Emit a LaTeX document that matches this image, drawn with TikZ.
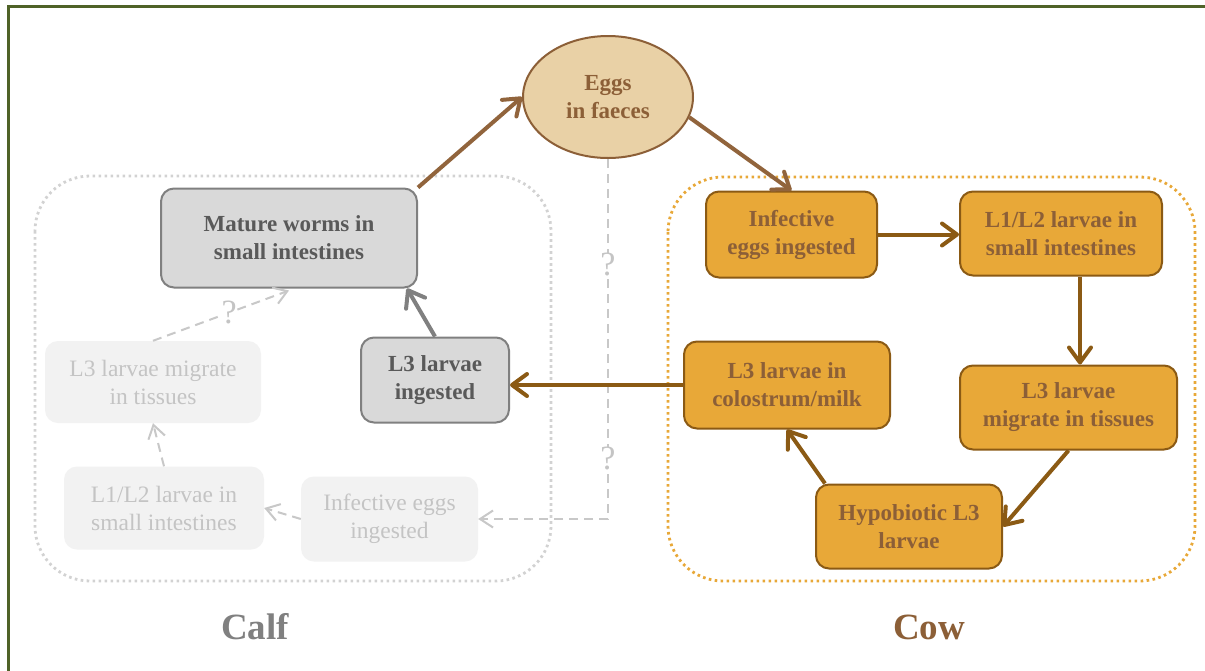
\documentclass[tikz,border=0pt]{standalone}
\usepackage{fontspec}
\setmainfont{Liberation Serif}
\usetikzlibrary{arrows.meta,shapes.geometric,calc}
\definecolor{frameG}{HTML}{4F6228}
\definecolor{eggFill}{HTML}{E9D1A6}
\definecolor{brownT}{HTML}{8C5F37}
\definecolor{eggArr}{HTML}{91643C}
\definecolor{orFill}{HTML}{E8A838}
\definecolor{orLine}{HTML}{8B5A14}
\definecolor{grFill}{HTML}{D9D9D9}
\definecolor{grLine}{HTML}{808080}
\definecolor{grText}{HTML}{595959}
\definecolor{fdFill}{HTML}{F2F2F2}
\definecolor{fdText}{HTML}{C4C4C4}
\definecolor{fdLine}{HTML}{C8C8C8}
\definecolor{calfBox}{HTML}{D2D2D2}
\tikzset{
  txt/.style={font=\fontsize{23}{28}\selectfont\bfseries, align=center},
  orbox/.style={txt, draw=orLine, fill=orFill, text=brownT, line width=2pt, rounded corners=13pt, inner sep=0pt},
  grbox/.style={txt, draw=grLine, fill=grFill, text=grText, line width=2pt, rounded corners=13pt, inner sep=0pt},
  fdbox/.style={font=\fontsize{23.5}{28}\selectfont, align=center, fill=fdFill, text=fdText, rounded corners=13pt, inner sep=0pt},
  arr/.style={line width=4pt, -{Straight Barb[length=15pt,width=22pt,round]}},
  fdarr/.style={draw=fdLine, line width=2pt, dash pattern=on 9pt off 6pt, -{Straight Barb[length=13pt,width=17pt,line width=2pt]}},
  qmark/.style={font=\fontsize{34}{36}\selectfont, text=fdText, fill=white, inner sep=0pt},
  container/.style={line width=2.8pt, dash pattern=on 2.6pt off 3.4pt, rounded corners=55pt},
}
\begin{document}
\begin{tikzpicture}[x=1pt,y=-1pt]
\useasboundingbox (0,0) rectangle (1205,670);
\fill[white] (0,0) rectangle (1205,670);
% frame
\draw[frameG, line width=2.2pt] (8.5,680) -- (8.5,6.5) -- (1215,6.5);
% containers
\draw[container, draw=calfBox] (35,176) rectangle (551,581);
\draw[container, draw=orFill] (668,177) rectangle (1195,581);
% nodes
\node[ellipse, draw=brownT, fill=eggFill, line width=2pt, minimum width=170pt, minimum height=122pt, inner sep=0pt, txt, text=brownT] (eggs) at (608,97) {Eggs\\in faeces};
\node[grbox, minimum width=256pt, minimum height=99pt] (mature) at (289,238) {Mature worms in\\small intestines};
\node[grbox, minimum width=148pt, minimum height=85pt] (l3ing) at (435,380) {L3 larvae\\ingested};
\node[fdbox, minimum width=216pt, minimum height=82pt] (fmig) at (153,382) {L3 larvae migrate\\in tissues};
\node[fdbox, minimum width=200pt, minimum height=83pt] (fl12) at (164,508) {L1/L2 larvae in\\small intestines};
\node[fdbox, minimum width=177pt, minimum height=85pt] (finf) at (389.5,519) {Infective eggs\\ingested};
\node[orbox, minimum width=171pt, minimum height=86pt] (inf) at (791.5,234.5) {Infective\\eggs ingested};
\node[orbox, minimum width=202pt, minimum height=84pt] (l12) at (1061,233.5) {L1/L2 larvae in\\small intestines};
\node[orbox, minimum width=217pt, minimum height=84pt] (mig) at (1068.5,407.5) {L3 larvae\\migrate in tissues};
\node[orbox, minimum width=206pt, minimum height=87pt] (col) at (787,385) {L3 larvae in\\colostrum/milk};
\node[orbox, minimum width=186pt, minimum height=84pt] (hyp) at (909,526.5) {Hypobiotic L3\\larvae};
% faded dashed arrows
\draw[fdarr] (eggs.south) -- node[qmark, pos=0.293]{?} node[qmark, pos=0.832]{?} (eggs.south |- finf.east) -- (finf.east);
\draw[fdarr] (finf.west) -- (fl12.east);
\draw[fdarr] (fl12.north) -- (fmig.south);
\draw[fdarr] (fmig.north) -- node[qmark, pos=0.56]{?} ($(mature.south)+(0,2)$);
% main arrows
\draw[arr, draw=eggArr] (mature.north east) -- (eggs.west);
\draw[arr, draw=eggArr] (eggs.-14) -- (inf.north);
\draw[arr, draw=orLine] (inf.east) -- (inf.east -| l12.west);
\draw[arr, draw=orLine] ($(l12.south)+(19,0)$) -- ($(mig.north)+(11.5,0)$);
\draw[arr, draw=orLine] (mig.south) -- (hyp.east);
\draw[arr, draw=orLine] ($(hyp.north west)+(10,0)$) -- (col.south);
\draw[arr, draw=orLine] (col.west) -- (col.west -| l3ing.east);
\draw[arr, draw=grLine] (l3ing.north) -- ($(mature.south east)+(-11,0)$);
% labels
\node[font=\fontsize{37}{40}\selectfont\bfseries, text=grLine] (calf) at (255,627) {Calf};
\node[font=\fontsize{37}{40}\selectfont\bfseries, text=brownT] (cow) at (929,627) {Cow};
\end{tikzpicture}
\end{document}
